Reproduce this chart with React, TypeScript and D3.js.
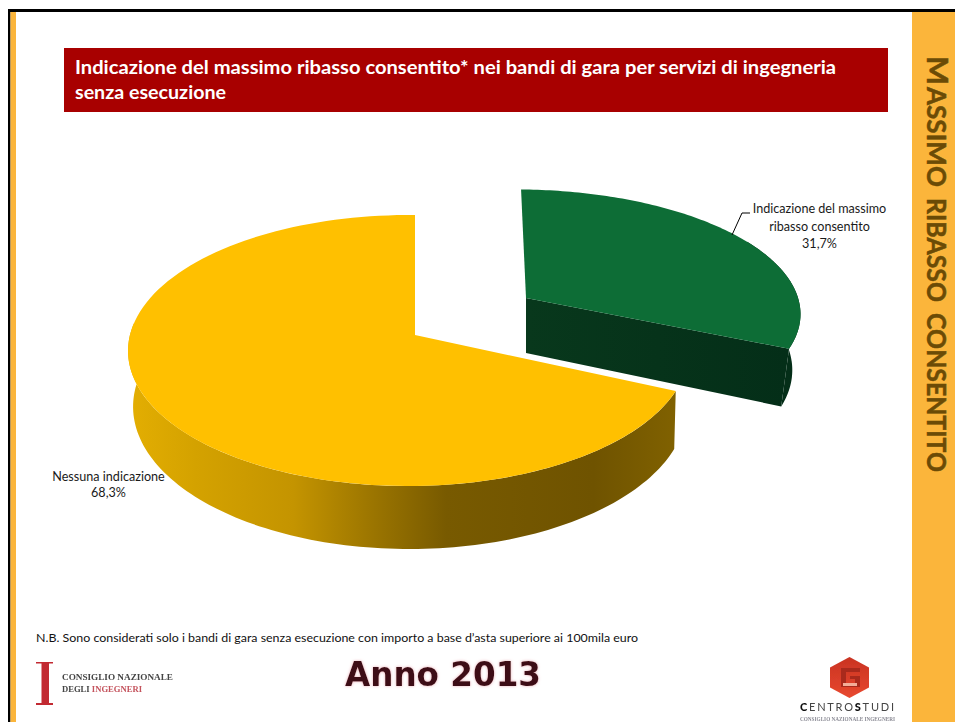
import React from "react";
import * as d3 from "d3";

// Slice labels and shares, in percent
const categories = ["Indicazione del massimo ribasso consentito", "Nessuna indicazione"];
const shares = [31.7, 68.3];
const shareLabels = ["31,7%", "68,3%"];
const titleLines = [
  "Indicazione del massimo ribasso consentito* nei bandi di gara per servizi di ingegneria",
  "senza esecuzione",
];
const footnote =
  "N.B. Sono considerati solo i bandi di gara senza esecuzione con importo a base d\u2019asta superiore ai 100mila euro";
const yearLabel = "Anno 2013";

const SANS = "Lato, Carlito, 'Open Sans', sans-serif";
const SERIF = "'Liberation Serif', serif";
const ORANGE = "#fbb53b";

type Plane = { ax: number; ay: number; kx: number; ky: number; shear: number };

// Perspective projection of the unit disc onto the page.
const A = 278.4;
const B = 133.7;
const P = 0.1144;
const R = 0.0233;

function project(theta: number, pl: Plane): [number, number] {
  const u = Math.sin(theta);
  const v = Math.cos(theta);
  const d = 1 + P * v + R * u;
  return [pl.ax + (pl.kx * A * u + pl.shear * v) / d, pl.ay - (pl.ky * B * v) / d];
}

const arcPoints = (a0: number, a1: number, pl: Plane): [number, number][] =>
  d3.range(0, 121).map((i) => project(a0 + ((a1 - a0) * i) / 120, pl));

const line = d3.line<[number, number]>();

const yellowTop: Plane = { ax: 415, ay: 335, kx: 1, ky: 1, shear: 0 };
const yellowBase: Plane = { ax: 416.6, ay: 390, kx: 0.988, ky: 1.053, shear: 0 };
const greenTop: Plane = { ax: 526, ay: 298, kx: 1, ky: 0.905, shear: -5.5 };
const greenBase: Plane = { ax: 526, ay: 353, kx: 0.97, ky: 0.953, shear: -5.5 };

const slices = d3.pie<number>().sort(null).startAngle(0).endAngle(2 * Math.PI)(shares);

function wedge(a0: number, a1: number, apex: Plane) {
  return line([[apex.ax, apex.ay], ...arcPoints(a0, a1, apex)]) + "Z";
}

function rim(a0: number, a1: number, top: Plane, base: Plane) {
  return line([...arcPoints(a0, a1, top), ...arcPoints(a1, a0, base)]) + "Z";
}

const rad = (deg: number) => (deg * Math.PI) / 180;

// Words of the section title set along the right band
function BandWord({ y, len, size, children }: { y: number; len: number; size: number; children: string }) {
  return (
    <text
      transform={`translate(927,${y}) rotate(90)`}
      fontFamily={SANS}
      fontWeight={700}
      fill="#6b4b06"
      stroke="#6b4b06"
      strokeWidth={0.5}
      fontSize={size}
      textLength={len}
      lengthAdjust="spacingAndGlyphs"
    >
      {children}
    </text>
  );
}

export default function App() {
  const green = slices[0];
  const yellow = slices[1];
  const greenFront = line([
    [greenTop.ax, greenTop.ay],
    project(green.endAngle, greenTop),
    project(green.endAngle, greenBase),
    [greenBase.ax, greenBase.ay],
  ]) + "Z";

  return (
    <svg
      width={955}
      height={722}
      viewBox="0 0 955 722"
      style={{ position: "absolute", left: 0, top: 0, background: "#fff" }}
    >
      <defs>
        <linearGradient id="yellowRim" gradientUnits="userSpaceOnUse" x1={130} x2={675} y1={0} y2={0}>
          <stop offset="0" stopColor="#e3ae02" />
          <stop offset="0.12" stopColor="#d4a200" />
          <stop offset="0.3" stopColor="#c49400" />
          <stop offset="0.45" stopColor="#9a7400" />
          <stop offset="0.58" stopColor="#785a00" />
          <stop offset="0.85" stopColor="#6f5300" />
          <stop offset="1" stopColor="#806100" />
        </linearGradient>
        <linearGradient id="greenFace" gradientUnits="userSpaceOnUse" x1={526} x2={790} y1={0} y2={0}>
          <stop offset="0" stopColor="#08381c" />
          <stop offset="1" stopColor="#042e18" />
        </linearGradient>
        <linearGradient id="hexFill" x1="0" x2="0" y1="0" y2="1">
          <stop offset="0" stopColor="#c93322" />
          <stop offset="1" stopColor="#e8482f" />
        </linearGradient>
        <filter id="yearGlow" x="-10%" y="-20%" width="120%" height="140%">
          <feGaussianBlur in="SourceAlpha" stdDeviation="1.4" result="halo" />
          <feFlood floodColor="#e08a96" floodOpacity="0.7" />
          <feComposite in2="halo" operator="in" result="tinted" />
          <feGaussianBlur in="SourceGraphic" stdDeviation="0.6" result="soft" />
          <feMerge>
            <feMergeNode in="tinted" />
            <feMergeNode in="soft" />
          </feMerge>
        </filter>
        <filter id="logoSoft">
          <feGaussianBlur stdDeviation="0.5" />
        </filter>
      </defs>

      {/* Slide frame */}
      <rect x={8} y={9} width={947} height={3} fill="#000" />
      <rect x={8} y={9} width={2.5} height={713} fill="#000" />
      <rect x={10.5} y={12} width={5.5} height={710} fill={ORANGE} />
      <rect x={912} y={12} width={43} height={710} fill={ORANGE} />

      {/* Heading band */}
      <rect x={64} y={48} width={824} height={64} fill="#a80000" />
      <g fill="#fff" fontFamily={SANS} fontWeight={700} fontSize={19.5}>
        <text x={75} y={73.5} textLength={761} lengthAdjust="spacingAndGlyphs">{titleLines[0]}</text>
        <text x={75} y={99} textLength={151} lengthAdjust="spacingAndGlyphs">{titleLines[1]}</text>
      </g>

      {/* Section title along the right band */}
      <BandWord y={56} len={29} size={29}>M</BandWord>
      <BandWord y={87} len={100} size={27.5}>ASSIMO</BandWord>
      <BandWord y={198} len={104} size={27.5}>RIBASSO</BandWord>
      <BandWord y={313} len={159} size={27.5}>CONSENTITO</BandWord>

      {/* Detached slice */}
      <path d={rim(rad(60), green.endAngle, greenTop, greenBase)} fill="#042e18" />
      <path d={greenFront} fill="url(#greenFace)" />
      <path d={wedge(green.startAngle, green.endAngle, greenTop)} fill="#0d6d36" />

      {/* Main slice */}
      <path d={rim(yellow.startAngle, rad(275), yellowTop, yellowBase)} fill="url(#yellowRim)" />
      <path d={wedge(yellow.startAngle, yellow.endAngle, yellowTop)} fill="#ffc000" />

      {/* Slice labels */}
      <path d="M732,235L742,213L750,213" fill="none" stroke="#000" strokeWidth={1} />
      <g fontFamily={SANS} fontSize={12.6} fill="#1a1a1a" textAnchor="middle">
        <text x={819.5} y={213}>Indicazione del massimo</text>
        <text x={819.5} y={231}>ribasso consentito</text>
        <text x={819.5} y={248}>{shareLabels[0]}</text>
        <text x={108.5} y={481}>{categories[1]}</text>
        <text x={108.5} y={497}>{shareLabels[1]}</text>
      </g>

      {/* Footnote */}
      <text x={36} y={642} fontFamily={SANS} fontSize={12} fill="#111" textLength={602} lengthAdjust="spacingAndGlyphs">
        {footnote}
      </text>

      {/* Year */}
      <text
        x={345}
        y={686}
        fontFamily="'DejaVu Sans', Verdana, sans-serif"
        fontWeight={700}
        fontSize={33}
        fill="#3d0a14"
        textLength={196}
        lengthAdjust="spacingAndGlyphs"
        filter="url(#yearGlow)"
      >
        {yearLabel}
      </text>

      {/* Council logo */}
      <g filter="url(#logoSoft)">
        <path d="M36,662H53V663.5H49V703H53V705H36V703H41.5V663.5H36Z" fill="#c22a33" />
        <g fontFamily={SERIF} fontSize={8.6} fontWeight={700}>
          <text x={62} y={680} fill="#444" textLength={111} lengthAdjust="spacingAndGlyphs">CONSIGLIO NAZIONALE</text>
          <text x={62} y={692} fill="#444">
            DEGLI <tspan fill="#c4525c">INGEGNERI</tspan>
          </text>
        </g>
      </g>

      {/* Study centre logo */}
      <g filter="url(#logoSoft)">
        <path d="M849.5,657L869,667.5V687.5L849.5,698L830,687.5V667.5Z" fill="url(#hexFill)" />
        <path d="M841,668H860V672H846V683H855V679H850V676H860V687H841Z" fill="#a92a1a" />
        <path d="M843,683H857V686H843Z" fill="#f3ad98" />
        <text x={800} y={711} fontFamily={SANS} fontSize={11} fill="#444" textLength={94} lengthAdjust="spacing">
          <tspan fontWeight={900} fill="#111">C</tspan>ENTRO<tspan fontWeight={900} fill="#111">S</tspan>TUDI
        </text>
        <text x={800} y={721} fontFamily={SERIF} fontSize={6} fontWeight={700} fill="#8a8a94" textLength={95} lengthAdjust="spacingAndGlyphs">
          CONSIGLIO NAZIONALE INGEGNERI
        </text>
      </g>
    </svg>
  );
}
